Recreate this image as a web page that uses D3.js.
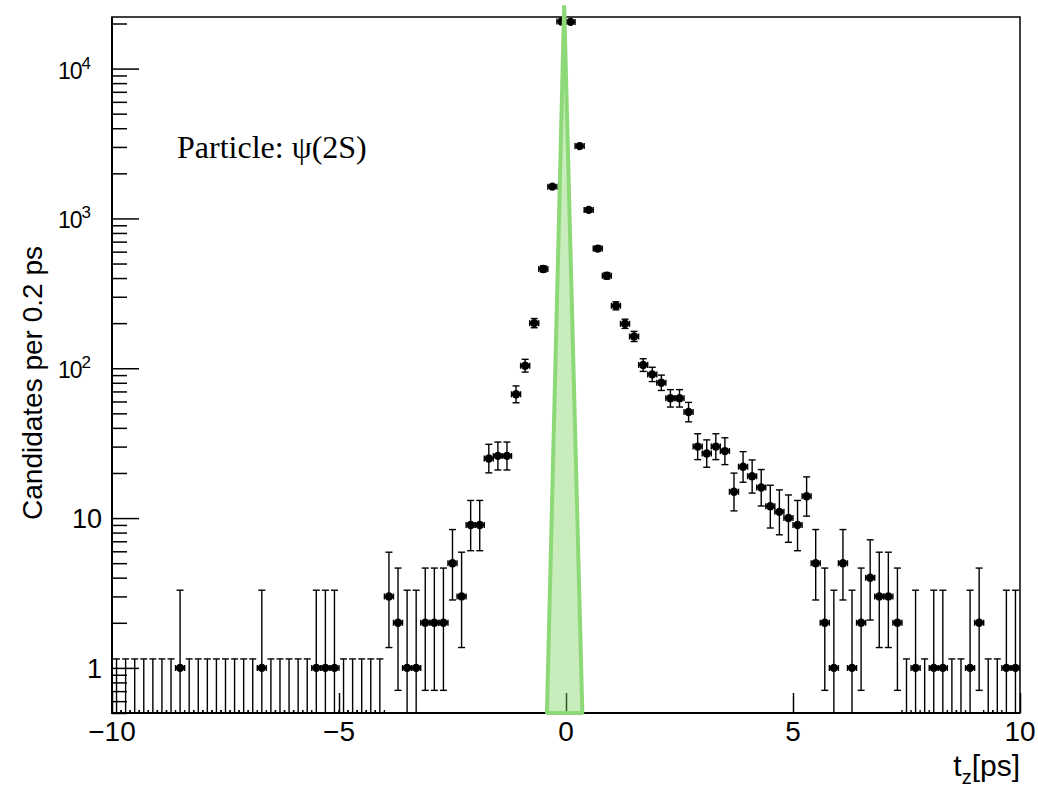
<!DOCTYPE html>
<html>
<head>
<meta charset="utf-8">
<script src="https://cdn.jsdelivr.net/npm/d3@7"></script>
<style>
  body { margin: 0; background: #fff; }
</style>
</head>
<body>
<div class="canvas"></div>
<script>
// candidates per 0.2 ps bin, bins from -10 to 10 ps
const binLow = -10;
const binWidth = 0.2;
const counts = [
  0, 0, 0, 0, 0, 0, 0, 1, 0, 0,
  0, 0, 0, 0, 0, 0, 1, 0, 0, 0,
  0, 0, 1, 1, 1, 0, 0, 0, 0, 0,
  3, 2, 1, 1, 2, 2, 2, 5, 3, 9,
  9, 25, 26, 26, 67, 104, 200, 460, 1630, 20600,
  20500, 3040, 1140, 629, 414, 261, 198, 163, 105, 91,
  80, 63, 63, 51, 30, 27, 30, 28, 15, 22,
  19, 16, 12, 11, 10, 9, 14, 5, 2, 1,
  5, 1, 2, 4, 3, 3, 2, 0, 1, 0,
  1, 1, 0, 0, 1, 2, 0, 0, 1, 1
];

// resolution curve (green)
const curveT = [-0.42, -0.04, 0.36];
const curveVal = [0.5, 26500, 0.5];

const xTickVals = [-10, -5, 0, 5, 10];
const yTickVals = [1, 10, 100, 1000, 10000];

const frame = { left: 112, top: 17, right: 1020, bottom: 713 };

const svg = d3.select('.canvas')
  .append('svg')
  .attr('width', 1038)
  .attr('height', 791)
  .style('font-family', '"Liberation Sans", Arial, sans-serif');

const x = d3.scaleLinear().domain([-10, 10]).range([frame.left, frame.right]);
const y = d3.scaleLog().domain([0.5, 22100]).range([frame.bottom, frame.top]);
const yPos = v => y(Math.max(v, y.domain()[0]));

// poisson (Garwood) intervals like RooHist
const alpha = 1 - 0.682689492;
const poissonCdf = (k, mu) => {
  let term = Math.exp(-mu), sum = term;
  for (let j = 1; j <= k; j++) { term *= mu / j; sum += term; }
  return sum;
};
const solveMu = (k, p) => {
  let lo = 0, hi = 300;
  for (let it = 0; it < 80; it++) {
    const mid = (lo + hi) / 2;
    if (poissonCdf(k, mid) > p) lo = mid; else hi = mid;
  }
  return (lo + hi) / 2;
};
const interval = n => {
  if (n === 0) return [0, -Math.log(alpha)];
  if (n > 100) return [n - Math.sqrt(n + 0.25) + 0.5, n + Math.sqrt(n + 0.25) + 0.5];
  return [solveMu(n - 1, 1 - alpha / 2), solveMu(n, alpha / 2)];
};

const bins = counts.map((n, i) => {
  const [lo, hi] = interval(n);
  return { t: binLow + (i + 0.5) * binWidth, n, lo, hi };
});

svg.append('clipPath')
  .attr('id', 'frame-clip')
  .append('rect')
    .attr('x', frame.left)
    .attr('y', frame.top)
    .attr('width', frame.right - frame.left)
    .attr('height', frame.bottom - frame.top);

// data points with error bars
const pts = svg.append('g')
  .attr('clip-path', 'url(#frame-clip)')
  .attr('stroke', '#000')
  .attr('stroke-width', 1.4)
  .selectAll('g')
  .data(bins)
  .enter()
  .append('g');

pts.append('line')
  .attr('x1', d => x(d.t)).attr('x2', d => x(d.t))
  .attr('y1', d => yPos(d.lo)).attr('y2', d => yPos(d.hi));
pts.append('line')
  .attr('x1', d => x(d.t) - 3.5).attr('x2', d => x(d.t) + 3.5)
  .attr('y1', d => yPos(d.hi)).attr('y2', d => yPos(d.hi));
pts.filter(d => d.lo > y.domain()[0])
  .append('line')
  .attr('x1', d => x(d.t) - 3.5).attr('x2', d => x(d.t) + 3.5)
  .attr('y1', d => yPos(d.lo)).attr('y2', d => yPos(d.lo));
pts.append('line')
  .attr('x1', d => x(d.t - binWidth / 2)).attr('x2', d => x(d.t + binWidth / 2))
  .attr('y1', d => yPos(d.n)).attr('y2', d => yPos(d.n));
pts.append('path')
  .attr('fill', 'none')
  .attr('d', d => {
    const yy = yPos(d.n), a = x(d.t - binWidth / 2), b = x(d.t + binWidth / 2);
    return `M${a},${yy - 3}V${yy + 3}M${b},${yy - 3}V${yy + 3}`;
  });
pts.filter(d => d.n > 0)
  .append('circle')
  .attr('cx', d => x(d.t))
  .attr('cy', d => yPos(d.n))
  .attr('r', 4.2)
  .attr('stroke', 'none')
  .attr('fill', '#000');

// axes
const yMinor = y.ticks().filter(v => v >= 0.5 && v <= 22100 && !yTickVals.includes(v));

const yMinorGroup = svg.append('g')
  .attr('transform', `translate(${frame.left}, 0)`)
  .call(d3.axisRight(y).tickValues(yMinor).tickSize(15).tickFormat(''));
const yMajorGroup = svg.append('g')
  .attr('transform', `translate(${frame.left}, 0)`)
  .call(d3.axisRight(y).tickValues(yTickVals).tickSize(27).tickFormat(''));
const xGroup = svg.append('g')
  .attr('transform', `translate(0, ${frame.bottom})`)
  .call(d3.axisTop(x).tickValues(xTickVals).tickSize(20).tickFormat(''));

svg.selectAll('.domain').remove();
svg.selectAll('.tick line').attr('stroke', '#000').attr('stroke-width', 1.5);

// frame
svg.append('rect')
  .attr('x', frame.left).attr('y', frame.top)
  .attr('width', frame.right - frame.left)
  .attr('height', frame.bottom - frame.top)
  .attr('fill', 'none')
  .attr('stroke', '#000')
  .attr('stroke-width', 1.5);
svg.append('path')
  .attr('d', `M${frame.left},${frame.top}V${frame.bottom}H${frame.right}`)
  .attr('fill', 'none')
  .attr('stroke', '#000')
  .attr('stroke-width', 2);

// tick labels
svg.append('g')
  .selectAll('text')
  .data(xTickVals)
  .enter()
  .append('text')
    .attr('x', d => x(d))
    .attr('y', 741)
    .attr('text-anchor', 'middle')
    .attr('font-size', 28)
    .text(d => d < 0 ? '\u2212' + Math.abs(d) : d);

const yLabels = svg.append('g')
  .selectAll('text')
  .data(yTickVals)
  .enter()
  .append('text')
    .attr('x', d => d < 100 ? 102 : 91)
    .attr('y', d => y(d) + 10)
    .attr('text-anchor', 'end')
    .attr('font-size', 27);

yLabels.filter(d => d < 100).text(d => d);
yLabels.filter(d => d >= 100).each(function(d) {
  const t = d3.select(this);
  t.append('tspan').attr('font-size', 23).attr('letter-spacing', -1).text('10');
  t.append('tspan')
    .attr('dy', -10)
    .attr('font-size', 17)
    .text(Math.round(Math.log10(d)));
});

// axis titles
svg.append('text')
  .attr('transform', 'translate(42, 383) rotate(-90)')
  .attr('text-anchor', 'middle')
  .attr('font-size', 28)
  .text('Candidates per 0.2 ps');

const xTitle = svg.append('text')
  .attr('x', 1020)
  .attr('y', 776)
  .attr('text-anchor', 'end')
  .attr('font-size', 30);
xTitle.append('tspan').text('t');
xTitle.append('tspan').attr('dy', 8).attr('font-size', 20).text('z');
xTitle.append('tspan').attr('dy', -8).text('[ps]');

svg.append('text')
  .attr('x', 177)
  .attr('y', 158)
  .attr('font-family', '"Liberation Serif", "Times New Roman", serif')
  .attr('font-size', 32)
  .text('Particle: \u03c8(2S)');

// green resolution curve on top
const curve = curveT.map((t, i) => ({ t, v: curveVal[i] }));
const curveLine = d3.line()
  .x(d => x(d.t))
  .y(d => y(d.v))
  .curve(d3.curveLinearClosed);

svg.append('path')
  .datum(curve)
  .attr('d', curveLine)
  .attr('fill', 'rgba(120, 208, 90, 0.4)')
  .attr('stroke', '#8ed977')
  .attr('stroke-width', 4)
  .attr('stroke-linejoin', 'bevel');
</script>
</body>
</html>
